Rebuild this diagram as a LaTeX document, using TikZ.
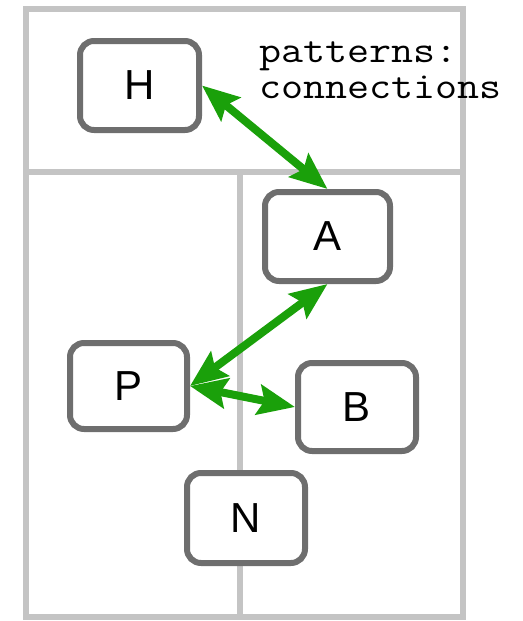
\documentclass[tikz,border=0pt]{standalone}
\usepackage{fontspec}
\setmainfont{Liberation Sans}
\newfontfamily\courfam[FakeStretch=1.14]{Latin Modern Mono}
\usetikzlibrary{arrows.meta}
\definecolor{framegray}{RGB}{196,196,196}
\definecolor{boxgray}{RGB}{110,110,110}
\definecolor{arrgreen}{RGB}{26,160,10}
\tikzset{
  frameline/.style={draw=framegray, line width=6pt},
  box/.style={draw=boxgray, line width=6pt, rounded corners=14pt, fill=white,
    minimum width=119pt, minimum height=89pt, inner sep=0pt,
    font=\fontsize{42}{46}\selectfont},
  lbl/.style={inner sep=0pt, anchor=base west, align=left,
    font=\courfam\fontsize{37.5}{35.5}\selectfont},
  conn/.style={draw=arrgreen, line width=8pt,
    {Stealth[length=37pt,width=30pt,inset=6pt]}-{Stealth[length=37pt,width=30pt,inset=6pt]}}
}
\begin{document}
\begin{tikzpicture}[x=1pt,y=-1pt]
\useasboundingbox (0,0) rectangle (522,621);
\draw[frameline] (26,9) rectangle (463,617);
\draw[frameline] (26,172) -- (463,172);
\draw[frameline] (240,172) -- (240,615);
\node[box] (H) at (139.5,85.5) {H};
\node[box, minimum width=125pt] (A) at (327.5,236.5) {A};
\node[box, minimum width=118pt, minimum height=88pt] (B) at (357,407) {B};
\node[box, minimum width=117pt, minimum height=86pt] (P) at (128.5,386) {P};
\node[box, minimum width=118pt, minimum height=90pt] (N) at (246,518) {N};
\node[lbl] (t1) at (259,98) {patterns:\\connections};
\draw[conn] (H.east) -- (A.north);
\draw[conn] (A.south) -- (P.east);
\draw[conn] (P.east) -- (B.west);
\end{tikzpicture}
\end{document}
